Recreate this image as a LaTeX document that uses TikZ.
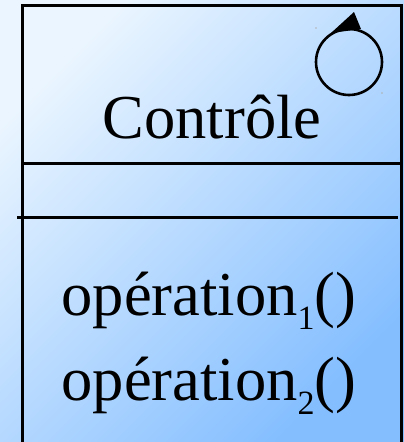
\documentclass[tikz,border=0pt]{standalone}
\usepackage{fontspec}
\newfontfamily\timesfam{Liberation Serif}
\definecolor{bgA}{HTML}{EAF5FF}
\definecolor{bgB}{HTML}{84BEFF}
\tikzset{
  boxline/.style={line width=3pt, draw=black, line cap=butt},
  bigtext/.style={inner sep=0pt, anchor=base, font=\timesfam\fontsize{62.5}{70}\selectfont},
}
\newcommand{\subidx}[1]{\raisebox{-14pt}{\fontsize{34}{34}\selectfont #1}}
\begin{document}
\begin{tikzpicture}[x=1pt,y=-1pt]
  \useasboundingbox (0,0) rectangle (404,442);
  \shade[top color=bgA, bottom color=bgB, shading angle=45] (0,0) rectangle (404,442);
  % class box
  \coordinate (tl) at (22,5);
  \coordinate (tr) at (401,5);
  \coordinate (bl) at (22,444);
  \coordinate (br) at (401,444);
  \draw[boxline] (bl) -- (tl) -- (tr) -- (br);
  \coordinate (s1l) at (22,163);
  \coordinate (s1r) at (401,163);
  \coordinate (s2l) at (17,217);
  \coordinate (s2r) at (398,217);
  \draw[boxline] (s1l) -- (s1r);
  \draw[boxline] (s2l) -- (s2r);
  % class name
  \node[bigtext] (name) at (212,138) {Contrôle};
  % active object icon
  \draw[line width=2.6pt] (349,62) circle[radius=33];
  \fill (354,12) -- (331,33) -- (361,29) -- cycle;
  \fill[gray!60] (316,28) circle[radius=0.8];
  \fill[gray!60] (382,93) circle[radius=0.8];
  % operations
  \node[bigtext] (op1) at (209,315) {opération\subidx{1}()};
  \node[bigtext] (op2) at (209,400) {opération\subidx{2}()};
\end{tikzpicture}
\end{document}
